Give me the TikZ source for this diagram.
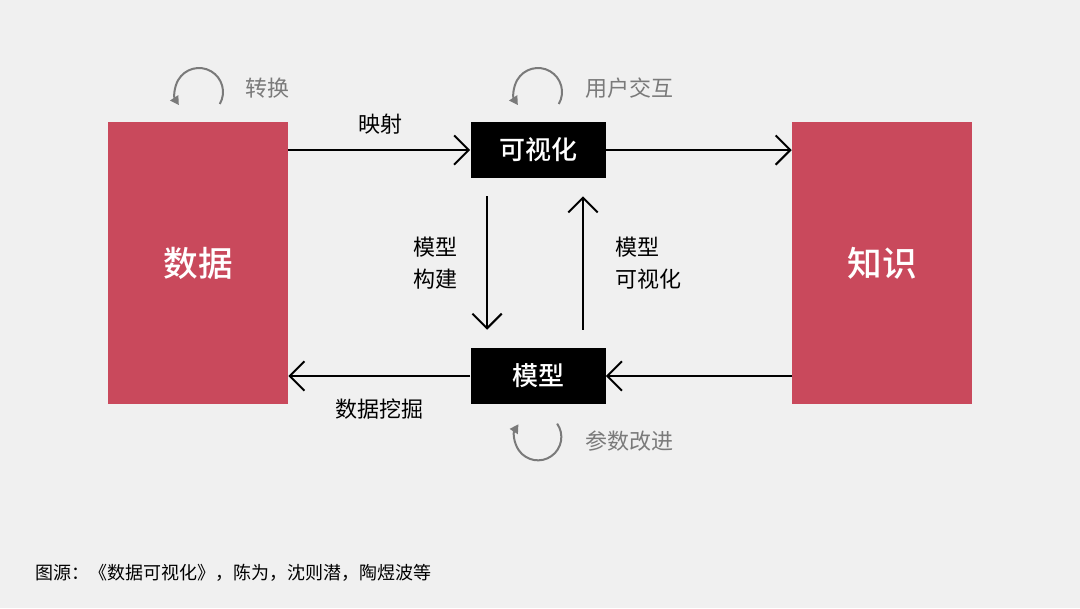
\documentclass[tikz,border=0pt]{standalone}
\usepackage{fontspec}
\setmainfont{Noto Sans CJK SC}[BoldFont={Noto Sans CJK SC Bold}]
\newfontfamily\boxfont{Noto Sans CJK SC Medium}
\usepackage{xcolor}
\usetikzlibrary{positioning,arrows.meta}
\definecolor{bgray}{HTML}{F0F0F0}
\definecolor{dred}{HTML}{C9495C}
\definecolor{cgray}{HTML}{7A7A7A}

\begin{document}
\begin{tikzpicture}[
  x=0.75pt, y=-0.75pt,
  >={Straight Barb[length=11pt,width=22pt]},
  every node/.style={font=\fontsize{16.5}{24}\selectfont},
  bigbox/.style={fill=dred, text=white, minimum width=135pt, minimum height=211.5pt,
    font=\fontsize{26}{30}\selectfont\boxfont},
  blkbox/.style={fill=black, text=white, minimum width=101.25pt, minimum height=42pt,
    font=\fontsize{19.5}{24}\selectfont\boxfont},
  flow/.style={->, line width=1.5pt},
  rel/.style={align=left, inner sep=0pt},
  cyc/.style={-{Triangle[length=6.5pt,width=7pt]}, draw=cgray, line width=1.5pt},
  cyclbl/.style={text=cgray, anchor=west, inner sep=0pt}]
  % canvas
  \fill[bgray] (0,0) rectangle (1080,608);
  \useasboundingbox (0,0) rectangle (1080,608);
  % main boxes
  \node[bigbox] (data)  at (198,263) {数据};
  \node[bigbox] (know)  at (882,263) {知识};
  \node[blkbox] (vis)   at (538,150) {可视化};
  \node[blkbox] (model) at (538,376) {模型};
  % upper flow
  \draw[flow] (data.east |- vis.west) -- (vis.west);
  \draw[flow] (vis.east) -- (know.west |- vis.east);
  \node[rel] (map) at (380,124) {映射};
  % middle flow
  \draw[flow] ([xshift=-38.25pt,yshift=-13.5pt]vis.south) -- ([xshift=-38.25pt,yshift=13.5pt]model.north);
  \draw[flow] ([xshift=33.75pt,yshift=13.5pt]model.north) -- ([xshift=33.75pt,yshift=-13.5pt]vis.south);
  \node[rel, anchor=west] (build) at (413,263) {模型\\构建};
  \node[rel, anchor=west] (mvis)  at (615,263) {模型\\可视化};
  % lower flow
  \draw[flow] (know.west |- model.east) -- (model.east);
  \draw[flow] (model.west) -- (data.east |- model.west);
  \node[rel] (mine) at (379,409) {数据挖掘};
  % cycles
  \coordinate (c1) at (199,92);
  \coordinate (c2) at (538,92);
  \coordinate (c3) at (538,437);
  \draw[cyc] ([shift={(-30:18pt)}]c1) arc[start angle=-30, end angle=213, radius=18pt];
  \draw[cyc] ([shift={(-30:18pt)}]c2) arc[start angle=-30, end angle=213, radius=18pt];
  \draw[cyc] ([shift={(35:17.5pt)}]c3) arc[start angle=35, end angle=-213, radius=17.5pt];
  \node[cyclbl] (conv) at (245,88)  {转换};
  \node[cyclbl] (user) at (585,88)  {用户交互};
  \node[cyclbl] (tune) at (585,441) {参数改进};
  % source
  \node[anchor=west, inner sep=0pt, font=\fontsize{13.5}{16}\selectfont] (src) at (35,573)
    {图源：《数据可视化》，陈为，沈则潜，陶煜波等};
\end{tikzpicture}
\end{document}
